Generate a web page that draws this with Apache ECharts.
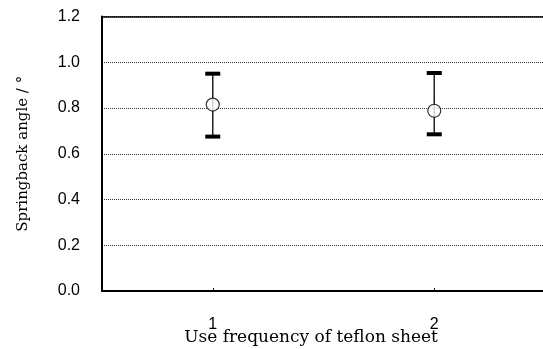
<!DOCTYPE html>
<html>
<head>
<meta charset="utf-8">
<script src="https://cdn.jsdelivr.net/npm/echarts@6/dist/echarts.min.js"></script>
<style>html,body{margin:0;padding:0;background:#fff;}#c{width:543px;height:349px;}</style>
</head>
<body>
<div id="c"></div>
<script>
var categories = ['1', '2'];
var means = [0.815, 0.788];
var lowers = [0.675, 0.685];
var uppers = [0.950, 0.953];
var yTicks = [0, 0.2, 0.4, 0.6, 0.8, 1.0, 1.2];

var chart = echarts.init(document.getElementById('c'), null, {renderer: 'canvas'});

var errData = categories.map(function (c, i) { return [i, means[i], lowers[i], uppers[i]]; });
var ptData = categories.map(function (c, i) { return [i, means[i]]; });

var option = {
  animation: false,
  grid: {left: 102, top: 16.5, width: 443, height: 274.5, containLabel: false, outerBoundsMode: 'none'},
  xAxis: [{
    type: 'category',
    data: categories,
    boundaryGap: true,
    name: 'Use frequency of teflon sheet',
    nameLocation: 'middle',
    nameGap: 38,
    nameMoveOverlap: false,
    nameTextStyle: {fontFamily: 'DejaVu Serif', fontSize: 17, color: '#000', padding: [0, 25, 0, 0]},
    axisLine: {lineStyle: {color: '#000', width: 2}},
    axisTick: {show: true, inside: true, length: 3, alignWithLabel: true, lineStyle: {color: '#000'}},
    axisLabel: {fontFamily: 'Liberation Sans', fontSize: 16, color: '#000', margin: 26},
    splitLine: {show: false}
  }, {
    type: 'category',
    position: 'top',
    data: categories,
    axisLine: {lineStyle: {color: '#000', width: 1.5}},
    axisTick: {show: false},
    axisLabel: {show: false}
  }],
  yAxis: {
    type: 'value',
    min: 0, max: 1.2, interval: 0.2,
    name: 'Springback angle / °',
    nameLocation: 'middle',
    nameGap: 71,
    nameMoveOverlap: false,
    nameTextStyle: {fontFamily: 'DejaVu Serif', fontSize: 15, color: '#000'},
    axisLine: {show: true, lineStyle: {color: '#000', width: 2}},
    axisTick: {show: false},
    axisLabel: {fontFamily: 'Liberation Sans', fontSize: 16, color: '#000', margin: 22,
      formatter: function (v) { return v.toFixed(1); }},
    splitLine: {show: true, lineStyle: {color: '#333', width: 1, type: [1, 1]}}
  },
  series: [{
    type: 'custom',
    data: errData,
    encode: {x: 0, y: [2, 3]},
    z: 2,
    renderItem: function (params, api) {
      var x = api.value(0);
      var lo = api.coord([x, api.value(2)]);
      var hi = api.coord([x, api.value(3)]);
      var capW = 15, capH = 4;
      return {
        type: 'group',
        children: [
          {type: 'line', shape: {x1: lo[0], y1: lo[1], x2: hi[0], y2: hi[1]}, style: {stroke: '#222', lineWidth: 1.5}},
          {type: 'rect', shape: {x: hi[0] - capW / 2, y: hi[1] - capH / 2, width: capW, height: capH}, style: {fill: '#000'}},
          {type: 'rect', shape: {x: lo[0] - capW / 2, y: lo[1] - capH / 2, width: capW, height: capH}, style: {fill: '#000'}}
        ]
      };
    }
  }, {
    type: 'scatter',
    data: ptData,
    symbol: 'circle',
    symbolSize: 13,
    z: 3,
    itemStyle: {color: '#fff', borderColor: '#000', borderWidth: 1.2}
  }]
};
chart.setOption(option);
</script>
</body>
</html>
